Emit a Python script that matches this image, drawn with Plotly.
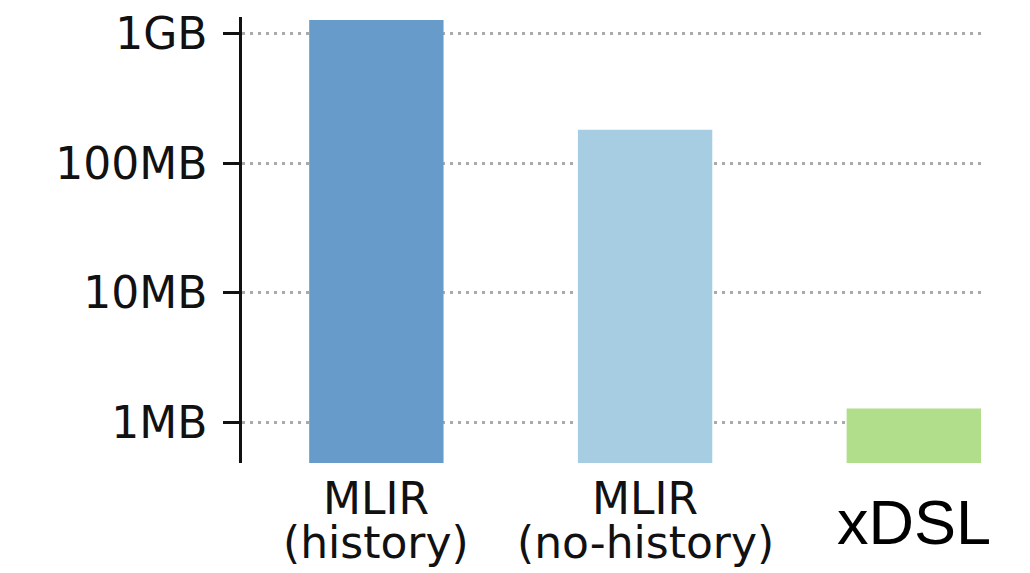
import plotly.graph_objects as go

# Memory footprint per implementation (values in MB)
categories = ["MLIR (history)", "MLIR (no-history)", "xDSL"]
label_lines = [["MLIR", "(history)"], ["MLIR", "(no-history)"], ["xDSL"]]
memory_mb = [1270, 181, 1.29]
bar_colors = ["#679bc9", "#a6cde2", "#b0de8a"]

tick_values = [1, 10, 100, 1000]
tick_labels = ["1MB", "10MB", "100MB", "1GB"]

fig = go.Figure(
    go.Bar(
        x=categories,
        y=memory_mb,
        marker=dict(color=bar_colors, line=dict(width=0)),
        width=0.5,
    )
)

# Category labels below the bars (two-line labels, plain larger last label)
for cat, lines in zip(categories, label_lines):
    if len(lines) == 2:
        for text, shift in zip(lines, [-35, -79]):
            fig.add_annotation(
                x=cat, xref="x", y=0, yref="paper", yshift=shift,
                text=text, showarrow=False, xanchor="center", yanchor="middle",
                font=dict(family="DejaVu Sans", size=44, color="#111111"),
            )
    else:
        fig.add_annotation(
            x=cat, xref="x", y=0, yref="paper", yshift=-59,
            text=lines[0], showarrow=False, xanchor="center", yanchor="middle",
            font=dict(family="Liberation Sans, Arial", size=63, color="#000000"),
        )

fig.update_layout(
    width=1030,
    height=573,
    margin=dict(l=242, r=49, t=17, b=110, autoexpand=False),
    paper_bgcolor="white",
    plot_bgcolor="white",
    showlegend=False,
    xaxis=dict(
        type="category",
        range=[-0.5, 2.25],
        showticklabels=False,
        showgrid=False,
        showline=False,
        ticks="",
        zeroline=False,
        automargin=False,
    ),
    yaxis=dict(
        type="log",
        range=[-0.31, 3.126],
        tickvals=tick_values,
        ticktext=tick_labels,
        tickfont=dict(family="DejaVu Sans", size=44, color="#111111"),
        ticks="outside",
        ticklen=16,
        tickwidth=2.5,
        tickcolor="#111111",
        ticklabelstandoff=7,
        showline=True,
        linecolor="#111111",
        linewidth=2.5,
        showgrid=True,
        gridcolor="#aaaaaa",
        gridwidth=2.5,
        griddash="3px,5px",
        zeroline=False,
        automargin=False,
    ),
)

fig.write_html("out.html")
